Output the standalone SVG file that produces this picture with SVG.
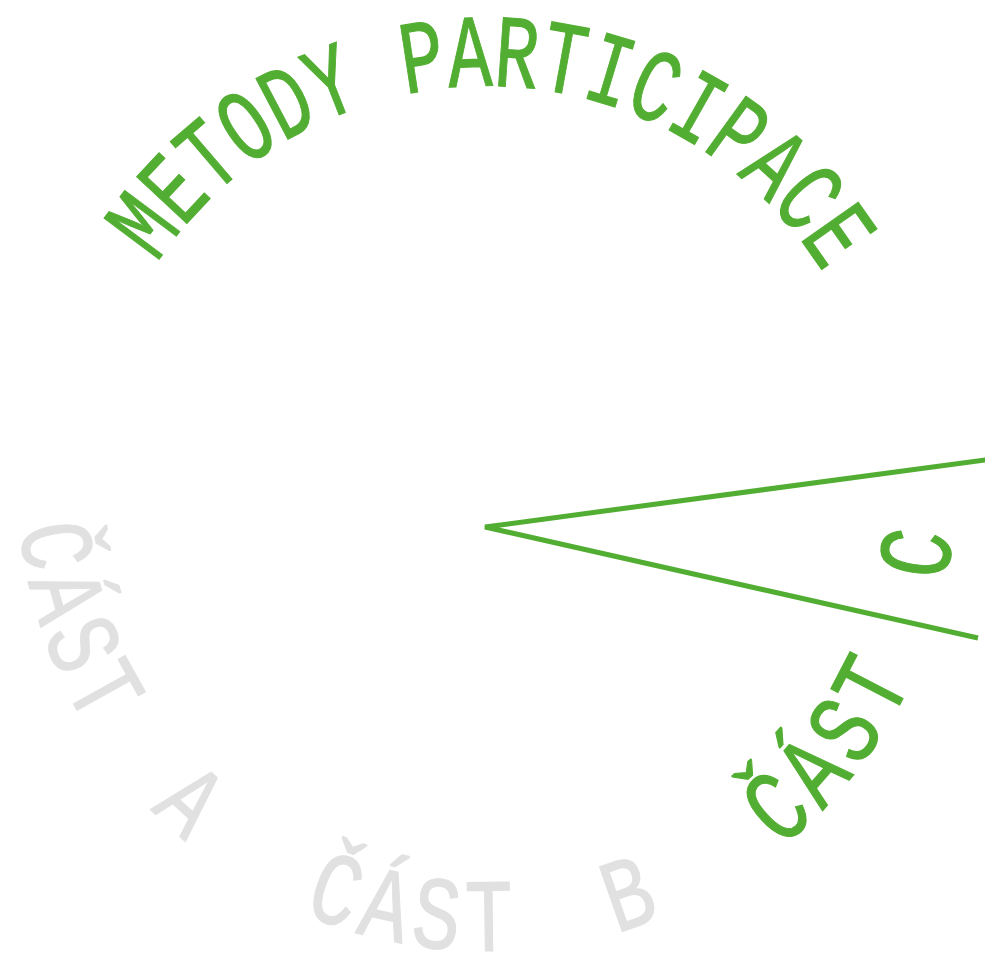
<svg xmlns="http://www.w3.org/2000/svg" xmlns:xlink="http://www.w3.org/1999/xlink" width="985" height="957" viewBox="0 0 985 957">
<style>
.lbl{font-family:"Liberation Mono","DejaVu Sans Mono",monospace;font-size:104px;}
.green{fill:#52ae32;stroke:#52ae32;stroke-width:1.2px;}
.gray{fill:#e1e1e1;stroke:#e1e1e1;stroke-width:1.2px;}
.inner{letter-spacing:10px;word-spacing:53px;}
.edge{fill:none;stroke:#52ae32;stroke-width:5;stroke-linejoin:miter;stroke-linecap:butt;}
</style>
<defs>
<path id="outerArc" d="M 91 482 A 396 396 0 0 1 883 482"/>
<path id="innerArc" d="M 18 482 A 469 469 0 0 0 956 482"/>
</defs>
<rect width="985" height="957" fill="#ffffff"/>
<g id="title">
<text class="lbl green"><textPath xlink:href="#outerArc" href="#outerArc" startOffset="231.5" textLength="792" lengthAdjust="spacingAndGlyphs">METODY PARTICIPACE</textPath></text>
</g>
<g id="part-a">
<text class="lbl gray inner"><textPath xlink:href="#innerArc" href="#innerArc" startOffset="45" textLength="372" lengthAdjust="spacingAndGlyphs">ČÁST A</textPath></text>
</g>
<g id="part-b">
<text class="lbl gray inner"><textPath xlink:href="#innerArc" href="#innerArc" startOffset="547" textLength="376" lengthAdjust="spacingAndGlyphs">ČÁST B</textPath></text>
</g>
<g id="part-c">
<text class="lbl green inner"><textPath xlink:href="#innerArc" href="#innerArc" startOffset="1054" textLength="374" lengthAdjust="spacingAndGlyphs">ČÁST C</textPath></text>
</g>
<g id="connectors">
<polyline class="edge" points="1000,458 485,527 978,638"/>
</g>
</svg>
